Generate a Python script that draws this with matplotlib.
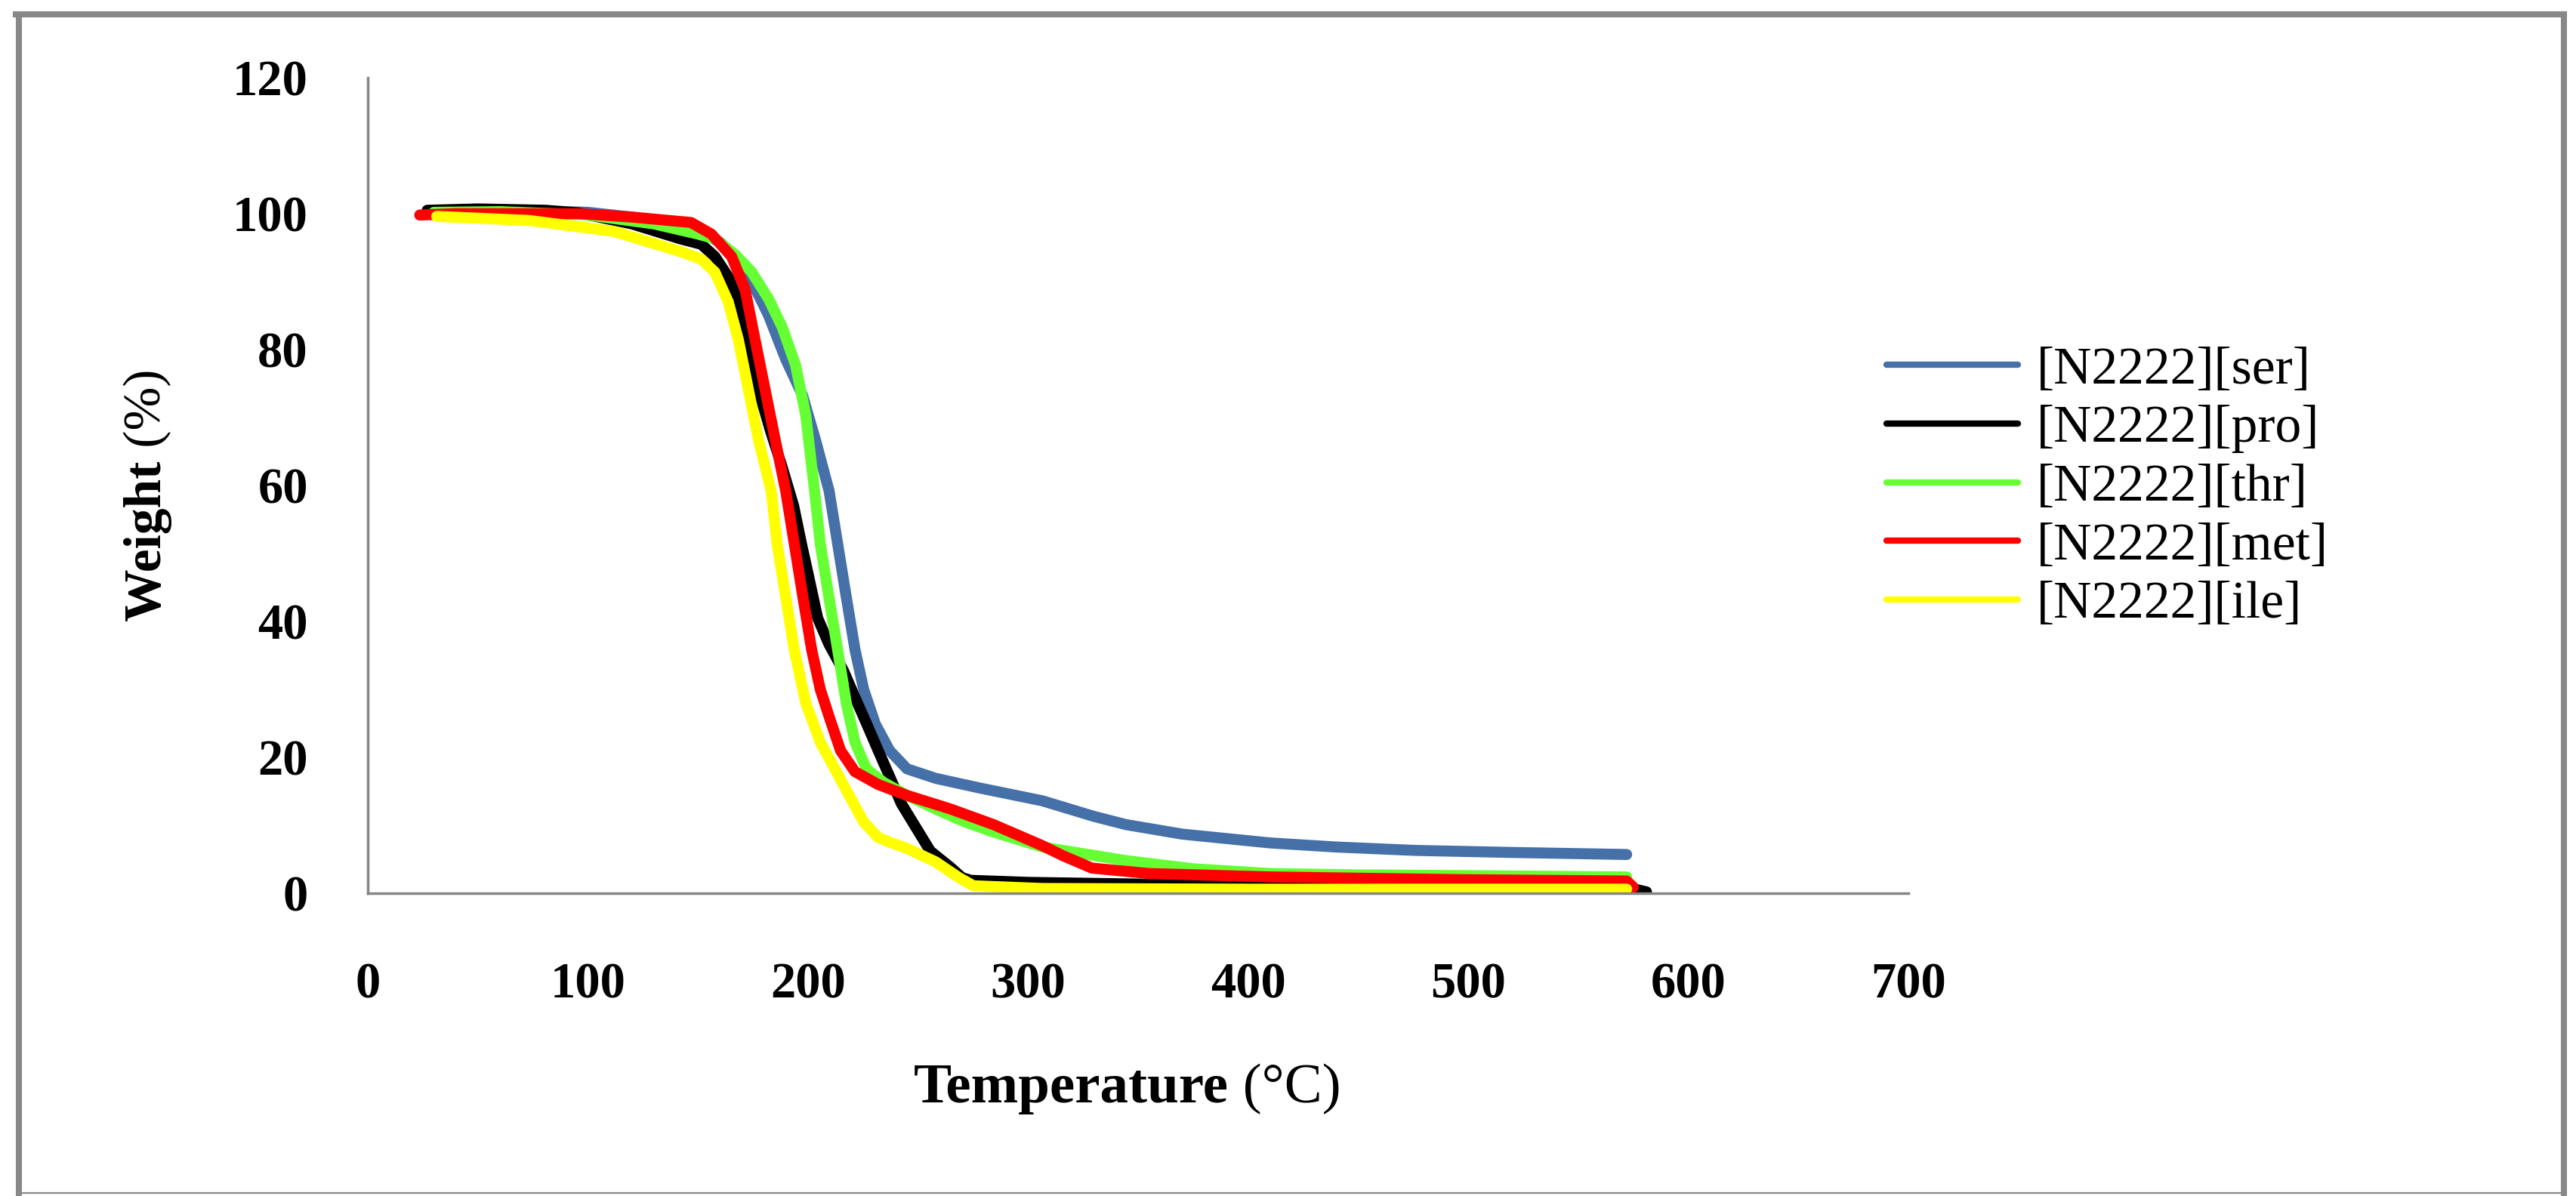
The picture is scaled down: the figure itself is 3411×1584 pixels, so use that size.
import matplotlib
matplotlib.use("Agg")
import matplotlib.pyplot as plt
from matplotlib.lines import Line2D

plt.rcParams['font.family'] = ['Liberation Serif', 'DejaVu Serif']

# ---------------- data ----------------
labels = ["[N2222][ser]", "[N2222][pro]", "[N2222][thr]", "[N2222][met]", "[N2222][ile]"]
colors = ["#4570A8", "#000000", "#66FF33", "#FF0000", "#FFFF00"]

ser_T = [30, 50, 80, 100, 120, 140, 150, 160, 168, 174.5, 182, 190, 197.5, 203.5, 209.6, 213.5, 217.4,
         221.4, 225.3, 230.6, 237.1, 245, 258.1, 277.8, 306.5, 330, 344.5, 370, 410, 440, 476, 520, 572]
ser_W = [100.2, 100.5, 100.4, 100.2, 99.5, 98.5, 97.5, 95.8, 93.5, 90.0, 85.1, 78.5, 73.3, 66.6, 59.2, 51.4, 43.6,
         35.8, 30.0, 24.9, 21.0, 18.3, 16.9, 15.5, 13.6, 11.3, 10.1, 8.7, 7.4, 6.8, 6.3, 6.0, 5.7]

pro_T = [27, 50, 81, 96, 120, 142, 151.5, 157.7, 163.8, 168.4, 173, 177.6, 183, 188, 193.5, 197, 200.4, 204.4,
         209.6, 216.2, 221.4, 226.7, 231.9, 237.2, 242.4, 249, 255.6, 264.8, 270, 274, 300, 340, 400, 450,
         500, 570, 577, 581]
pro_W = [100.5, 100.7, 100.5, 100.1, 98.5, 96.3, 95.5, 93.7, 90.7, 87.0, 81.4, 74.0, 68.0, 63.0, 57.0, 51.5, 46.5, 40.5,
         36.6, 32.7, 28.8, 24.9, 21.0, 17.1, 13.2, 9.7, 6.2, 3.8, 2.3, 1.9, 1.6, 1.4, 1.1, 1.0,
         0.9, 0.8, 0.5, 0.2]

thr_T = [30, 60, 100, 130, 150, 157.7, 166.9, 174.5, 182.2, 188.3, 194.4, 199, 203, 205.6, 209.5, 213.5,
         217.4, 221.4, 226.6, 234.4, 245, 258, 271.3, 284.4, 306.5, 344.5, 375, 410, 450, 497, 572]
thr_W = [100.2, 100.3, 99.8, 98.5, 97.0, 96.3, 94.0, 91.4, 87.4, 83.3, 77.7, 70.3, 59.2, 51.4, 43.6, 35.8,
         28.0, 22.2, 18.3, 16.3, 14.4, 12.4, 10.5, 9.0, 6.8, 4.8, 3.6, 2.9, 2.7, 2.6, 2.4]

met_T = [23.6, 40, 70, 96.4, 120, 146.9, 156.1, 165.3, 171.4, 176, 180.6, 185.2, 189.9, 193.8, 197.7,
         201.7, 205.6, 209.5, 214.8, 221.3, 231.9, 245, 264.7, 284.3, 306.5, 316, 329, 355, 410, 497,
         572, 575]
met_W = [99.8, 100.0, 100.0, 100.0, 99.5, 98.7, 97.0, 93.7, 88.9, 81.4, 74.0, 66.6, 59.2, 51.4, 43.6,
         35.8, 30.0, 26.1, 21.0, 17.9, 16.0, 14.4, 12.4, 10.1, 7.0, 5.5, 3.7, 2.9, 2.4, 2.0,
         1.8, 0.9]

ile_T = [31.3, 73.4, 111.7, 142.3, 151.5, 157.7, 163.8, 168.4, 173, 177.6, 183.3, 186, 189.9, 193.8, 199,
         205.6, 212.2, 218.7, 225.3, 231.9, 238, 245, 258.1, 268.6, 275.2, 306.5, 400, 500, 572]
ile_W = [99.6, 99.0, 97.4, 94.4, 93.3, 91.4, 87.0, 81.4, 74.0, 66.6, 59.2, 51.4, 43.6, 35.8, 28.0,
         22.2, 18.3, 14.4, 10.5, 8.2, 7.4, 6.6, 4.6, 2.3, 1.1, 0.7, 0.6, 0.6, 0.6]

series_T = [ser_T, pro_T, thr_T, met_T, ile_T]
series_W = [ser_W, pro_W, thr_W, met_W, ile_W]

x_ticks = [0, 100, 200, 300, 400, 500, 600, 700]
y_ticks = [0, 20, 40, 60, 80, 100, 120]

# ---------------- figure ----------------
W_PX, H_PX, DPI = 3411, 1584, 100
fig = plt.figure(figsize=(W_PX / DPI, H_PX / DPI), dpi=DPI, facecolor="white")

def fx(px):
    return px / W_PX

def fy(py):
    return 1 - py / H_PX

ax = fig.add_axes([fx(487), fy(1183), fx(2527) - fx(487), fy(103) - fy(1183)])

for T, Wt, c, lab in zip(series_T, series_W, colors, labels):
    ax.plot(T, Wt, color=c, lw=10.5, label=lab, solid_capstyle="round", solid_joinstyle="round")

ax.set_xlim(0, 700)
ax.set_ylim(0, 120)
ax.set_xticks(x_ticks)
ax.set_yticks(y_ticks)
ax.tick_params(axis="both", length=0, labelsize=48)
ax.tick_params(axis="y", pad=57)
ax.tick_params(axis="x", pad=66)
for t in ax.get_xticklabels() + ax.get_yticklabels():
    t.set_fontweight("bold")

for s in ["top", "right"]:
    ax.spines[s].set_visible(False)
for s in ["left", "bottom"]:
    ax.spines[s].set_color("#868686")
    ax.spines[s].set_linewidth(2.5)

# legend
leg = ax.legend(loc="upper left", bbox_to_anchor=(fx(2498), fy(459)), bbox_transform=fig.transFigure,
                frameon=False, fontsize=50, handlelength=2.5, handletextpad=0.36,
                labelspacing=0.2, borderpad=0, borderaxespad=0)
for h in leg.get_lines():
    h.set_linewidth(6)

# axis titles: bold word + regular unit
t1 = fig.text(fx(1210), fy(1460), "Temperature", fontsize=54, fontweight="bold",
              ha="left", va="baseline")
ax.annotate(" (°C)", xy=(1, 0), xycoords=t1, xytext=(0, 0), textcoords="offset points",
            fontsize=54, fontweight="normal", ha="left", va="bottom")

t2 = fig.text(fx(195), fy(822), "Weight", fontsize=50, fontweight="bold", rotation=90,
              ha="center", va="bottom")
ax.annotate(" (%)", xy=(0.5, 1), xycoords=t2, xytext=(0, 0), textcoords="offset points",
            fontsize=50, fontweight="normal", rotation=90, ha="center", va="bottom")

# outer frame
frame_c = "#888888"
fig.add_artist(Line2D([fx(21), fx(3395)], [fy(19), fy(19)], color=frame_c, lw=5.8,
                      transform=fig.transFigure))
fig.add_artist(Line2D([fx(25), fx(25)], [fy(19), fy(1580)], color=frame_c, lw=5.8,
                      transform=fig.transFigure))
fig.add_artist(Line2D([fx(3395), fx(3395)], [fy(19), fy(1580)], color=frame_c, lw=5.8,
                      transform=fig.transFigure))
fig.add_artist(Line2D([fx(25), fx(3395)], [fy(1580), fy(1580)], color=frame_c, lw=1.6,
                      transform=fig.transFigure))

fig.savefig("out.png", dpi=DPI, facecolor="white")
